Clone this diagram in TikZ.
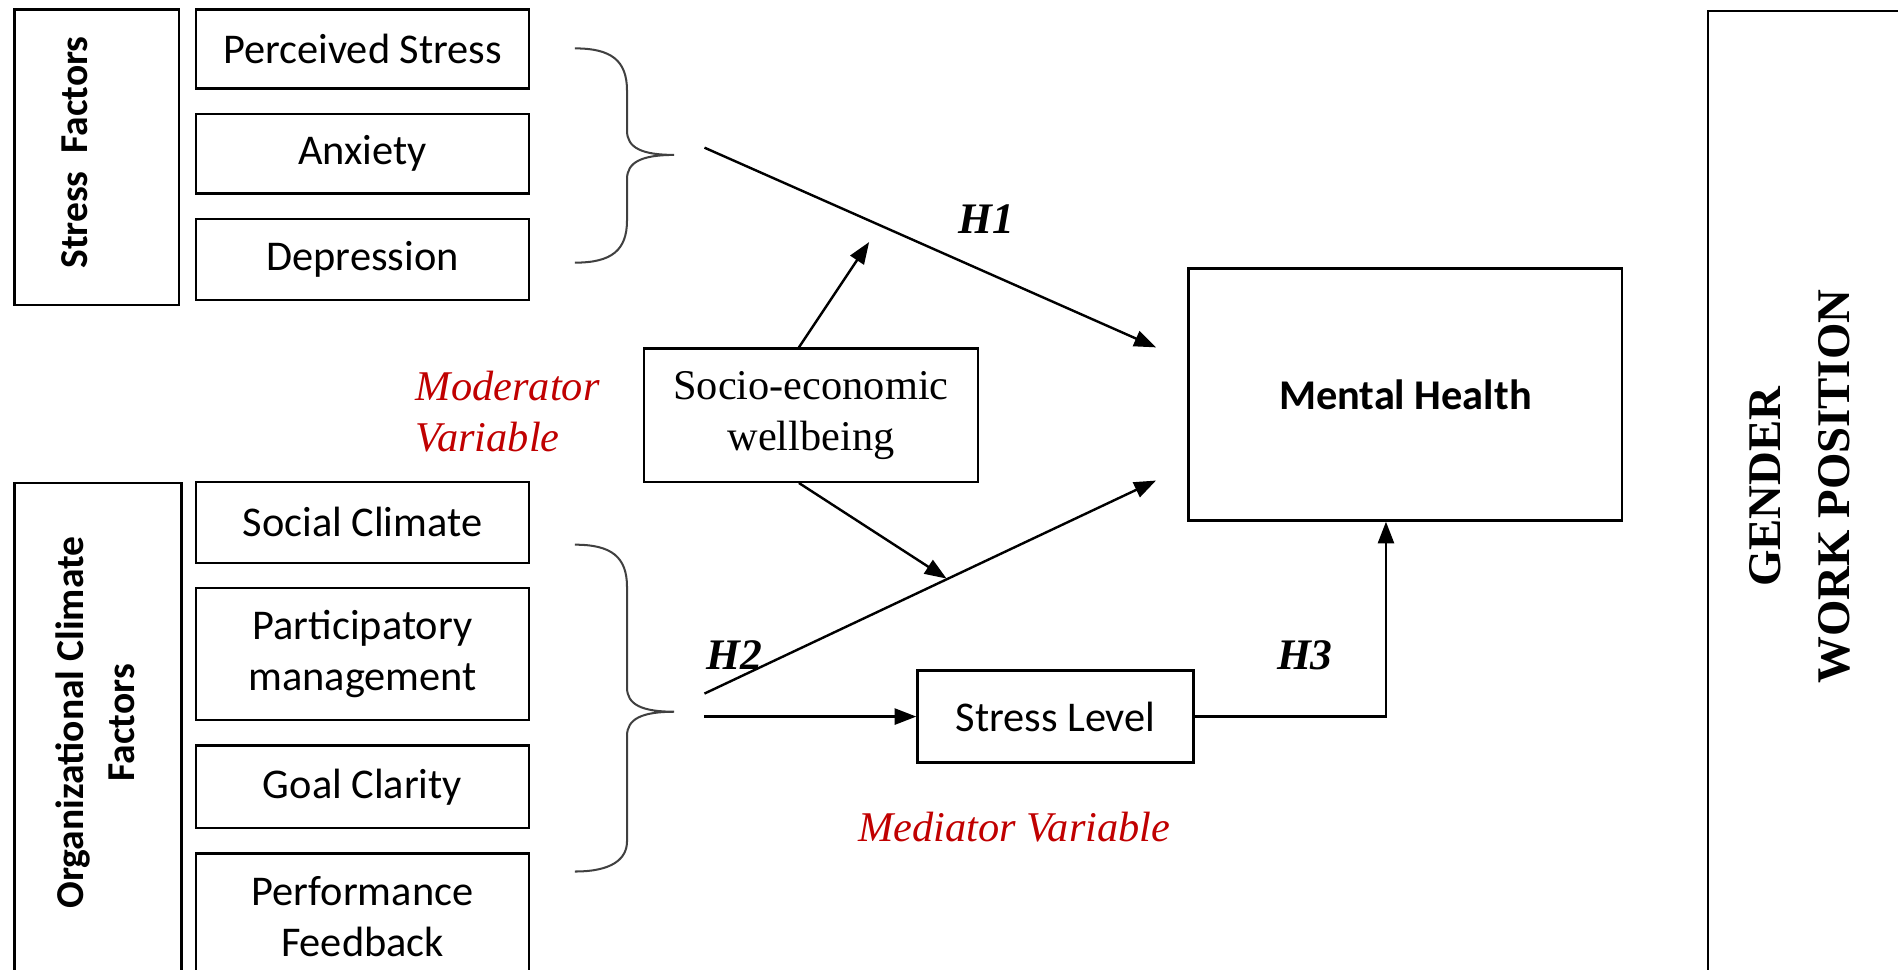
\documentclass[tikz,border=0pt]{standalone}
\usepackage{fontspec}
\setmainfont{Carlito}
\newfontfamily\serif{Liberation Serif}
\usetikzlibrary{positioning}
\usetikzlibrary{arrows.meta}
\definecolor{modred}{RGB}{192,0,0}

\begin{document}
\fontsize{10.5}{12.6}\selectfont
\begin{tikzpicture}
		[x=0.3pt, y=-0.3pt, node distance=5.7pt, line width=0.6pt,
		 box/.style = {draw, minimum width=82.5pt, align=center},
		 side/.style = {rotate=90, align=center, font=\fontsize{9.8}{12.6}\selectfont\bfseries},
		 hyp/.style = {font=\fontsize{10.8}{13}\selectfont\serif\bfseries\itshape},
		 note/.style = {text=modred, align=left, font=\serif\itshape},
		 arr/.style = {-{Triangle[length=5.4pt, width=4pt]}}]
	\useasboundingbox (0,0) rectangle (1568,801);
	\clip (0,0) rectangle (1568,801);
	% stress factors
	\node[draw, minimum width=40.8pt, minimum height=73.2pt] (sf) at (80,130) {};
	\node[side] (sft) at (62,126) {Stress~~Factors};
	\node[box, minimum height=19.5pt] (ps) at (299.5,40.5) {Perceived Stress};
	\node[box, minimum height=19.8pt] (anx) [below=of ps] {Anxiety};
	\node[box, minimum height=20.1pt] (dep) [below=of anx] {Depression};
	% organizational climate factors
	\node[draw, minimum width=41.4pt, minimum height=126pt, anchor=north] (oc) at (81,398) {};
	\node[side] (oct) at (79,597) {Organizational Climate\\Factors};
	\node[box, minimum height=20.1pt] (sc) at (299.5,431.5) {Social Climate};
	\node[box, minimum height=32.7pt] (pm) [below=of sc] {Participatory\\management};
	\node[box, minimum height=20.4pt] (gc) [below=of pm] {Goal Clarity};
	\node[box, minimum height=31.2pt] (pf) [below=of gc] {Performance\\Feedback};
	% middle and right
	\node[draw, minimum width=82.8pt, minimum height=33pt, align=center, font=\serif] (se) at (670,343) {Socio-economic\\wellbeing};
	\node[draw, minimum width=107.4pt, minimum height=62.4pt, font=\bfseries] (mh) at (1161,326) {Mental Health};
	\node[draw, minimum width=68.4pt, minimum height=22.8pt] (sl) at (872,592) {Stress Level};
	\node[draw, minimum width=60pt, minimum height=250pt, anchor=north west] (gw) at (1410,8) {};
	\node[side, font=\fontsize{11.6}{17}\selectfont\serif\bfseries] (gwt) at (1487,402) {GENDER\\WORK POSITION};
	% braces
	\draw[line width=0.5pt, black!75] (475,40) .. controls (505,40) and (518,50) .. (518,75) -- (518,108)
		.. controls (518,122) and (530,128) .. (557,128) .. controls (530,128) and (518,134) .. (518,148)
		-- (518,182) .. controls (518,207) and (505,217) .. (475,217);
	\draw[line width=0.5pt, black!75] (475,450) .. controls (505,450) and (518,460) .. (518,485) -- (518,568)
		.. controls (518,582) and (530,588) .. (557,588) .. controls (530,588) and (518,594) .. (518,608)
		-- (518,695) .. controls (518,710) and (505,720) .. (475,720);
	% arrows
	\coordinate (b1) at (582,122);
	\coordinate (b2) at (582,573);
	\coordinate (b3) at (582,592);
	\coordinate (m1) at (955,287);
	\coordinate (m2) at (955,397);
	\coordinate (u1) at (718,200);
	\coordinate (u2) at (782,478);
	\draw[arr] (b1) -- (m1);
	\draw[arr] (b2) -- (m2);
	\draw[arr] (b3) -- (sl);
	\draw[arr] ([xshift=-3pt]se.north) -- (u1);
	\draw[arr] ([xshift=-3pt]se.south) -- (u2);
	\draw[arr] (sl) -| ([xshift=-4.8pt]mh.south);
	% labels
	\node[hyp] (h1) at (815,181) {H1};
	\node[hyp] (h2) at (607,541) {H2};
	\node[hyp] (h3) at (1078,541) {H3};
	\node[note, anchor=west] (mod) at (331,340) {Moderator\\Variable};
	\node[note] (med) at (838,683) {Mediator Variable};
\end{tikzpicture}
\end{document}
